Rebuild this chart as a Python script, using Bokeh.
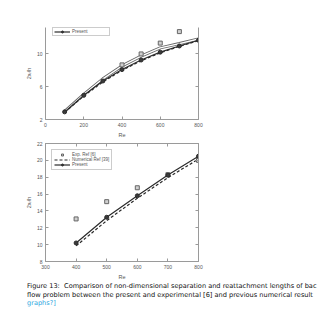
from bokeh.plotting import figure
from bokeh.layouts import column
from bokeh.models import (ColumnDataSource, Range1d, FixedTicker, LinearAxis, Legend,
                          LegendItem, Div, CustomJSTickFormatter)
from bokeh.embed import file_html
from bokeh.resources import INLINE

# ---------------- data ----------------
re_top = [100, 200, 300, 400, 500, 600, 700, 800]
present_top = [2.93, 4.94, 6.69, 8.08, 9.24, 10.2, 10.95, 11.65]
numref_top = [2.88, 4.85, 6.58, 7.98, 9.15, 10.12, 10.9, 11.6]
numref2_top = [2.98, 5.05, 6.95, 8.52, 9.72, 10.72, 11.25, 11.8]
re_exp_top = [400, 500, 600, 700]
exp_top = [8.65, 9.98, 11.3, 12.7]

re_bot = [400, 500, 600, 700, 800]
exp_bot = [13.05, 15.1, 16.75, 18.3, 20.0]
numref_bot = [9.85, 12.85, 15.5, 17.95, 20.15]
present_bot = [10.2, 13.25, 15.8, 18.25, 20.5]

xticks_top = [0, 200, 400, 600, 800]
yticks_top = [2, 6, 10, 14]
xticks_bot = [300, 400, 500, 600, 700, 800]
yticks_bot = [8, 10, 12, 14, 16, 18, 20, 22]

caption_lines = [
    "Figure 13:&nbsp; Comparison of non-dimensional separation and reattachment lengths of bac",
    "flow problem between the present and experimental [6] and previous numerical result",
]
caption_link = "graphs?]"

AX = "#9a9a9a"
TXT = "#555555"
LINE = "#2b2b2b"
FONT = "Liberation Sans"
blank = CustomJSTickFormatter(code="return ''")


def style_axis(ax, ticks, labels=True):
    ax.ticker = FixedTicker(ticks=ticks)
    ax.axis_line_color = AX
    ax.major_tick_line_color = AX
    ax.major_tick_in = 3
    ax.major_tick_out = 0
    ax.minor_tick_line_color = None
    ax.major_label_text_font = FONT
    ax.major_label_text_font_size = "5px"
    ax.major_label_text_color = TXT
    ax.major_label_standoff = 3
    ax.axis_label_text_font = FONT
    ax.axis_label_text_font_size = "5.5px"
    ax.axis_label_text_font_style = "normal"
    ax.axis_label_text_color = TXT
    ax.axis_label_standoff = 2
    if not labels:
        ax.formatter = blank


# ---------------- top panel ----------------
p1 = figure(width=320, height=140, output_backend="svg", toolbar_location=None,
            x_range=Range1d(0, 800), y_range=Range1d(2, 13.2),
            min_border_left=45, min_border_right=122, min_border_top=27, min_border_bottom=17)
p1.outline_line_color = None
p1.grid.visible = False
style_axis(p1.xaxis[0], xticks_top)
style_axis(p1.yaxis[0], yticks_top)
p1.xaxis.axis_label = "Re"
p1.yaxis.axis_label = "2x\u1d63/h"
ra1 = LinearAxis()
style_axis(ra1, yticks_top, labels=False)
p1.add_layout(ra1, "right")

st = ColumnDataSource(dict(x=re_top, pr=present_top, nr=numref_top, nr2=numref2_top))
se = ColumnDataSource(dict(x=re_exp_top, y=exp_top))
p1.line("x", "nr2", source=st, line_color="#666666", line_width=3)
p1.line("x", "nr2", source=st, line_color="white", line_width=1.3)
p1.line("x", "nr", source=st, line_color=LINE, line_width=1.2, line_dash="3 2")
l1 = p1.line("x", "pr", source=st, line_color=LINE, line_width=1.2)
c1 = p1.scatter("x", "pr", source=st, marker="circle", size=4, fill_color="#3a3a3a", line_color=LINE)
p1.scatter("x", "y", source=se, marker="square", size=4, fill_color="#d0d0d0", line_color="#666666")

leg1 = Legend(items=[LegendItem(label="Present", renderers=[l1, c1])],
              margin=0, padding=1, spacing=0, glyph_width=16, glyph_height=5, label_height=5,
              label_text_font=FONT, label_text_font_size="4.5px", label_text_color=TXT,
              border_line_color=AX, label_standoff=2, label_width=36)
leg1.location = (7, 83)
p1.add_layout(leg1)

# ---------------- bottom panel ----------------
p2 = figure(width=320, height=142, output_backend="svg", toolbar_location=None,
            x_range=Range1d(300, 800), y_range=Range1d(8, 22),
            min_border_left=44, min_border_right=122, min_border_top=3, min_border_bottom=17)
p2.outline_line_color = AX
p2.grid.visible = False
style_axis(p2.xaxis[0], xticks_bot)
style_axis(p2.yaxis[0], yticks_bot)
p2.xaxis.axis_label = "Re"
p2.yaxis.axis_label = "2x\u1d63/h"
ra2 = LinearAxis()
style_axis(ra2, yticks_bot, labels=False)
p2.add_layout(ra2, "right")
ta2 = LinearAxis()
style_axis(ta2, xticks_bot, labels=False)
p2.add_layout(ta2, "above")

sb = ColumnDataSource(dict(x=re_bot, ex=exp_bot, nr=numref_bot, pr=present_bot))
e2 = p2.scatter("x", "ex", source=sb, marker="square", size=4, fill_color="#d0d0d0", line_color="#666666")
n2 = p2.line("x", "nr", source=sb, line_color=LINE, line_width=1.2, line_dash="3 2")
l2 = p2.line("x", "pr", source=sb, line_color=LINE, line_width=1.2)
c2 = p2.scatter("x", "pr", source=sb, marker="circle", size=4, fill_color="#3a3a3a", line_color=LINE)

leg2 = Legend(items=[LegendItem(label="Exp. Ref [6]", renderers=[e2]),
                     LegendItem(label="Numerical Ref [39]", renderers=[n2]),
                     LegendItem(label="Present", renderers=[l2, c2])],
              location="top_left", margin=6, padding=2, spacing=0, glyph_width=16, glyph_height=5,
              label_height=5, label_text_font=FONT, label_text_font_size="4.5px", label_text_color=TXT,
              border_line_color=AX, label_standoff=2)
p2.add_layout(leg2)

# ---------------- caption ----------------
cap_html = (
    '<div style="width:320px;height:36px;overflow:hidden;white-space:nowrap;'
    'font-family:\'DejaVu Sans\';font-size:6.6px;line-height:8.5px;color:#111;'
    'padding-left:27px;box-sizing:border-box;margin:0;">'
    + "<br>".join(caption_lines)
    + '<br><span style="color:#2fa8e0;">' + caption_link + "</span></div>"
)
cap = Div(text=cap_html, width=320, height=36, margin=0)

layout = column(p1, p2, cap, spacing=0)
open("out.html", "w").write(file_html(layout, INLINE))
